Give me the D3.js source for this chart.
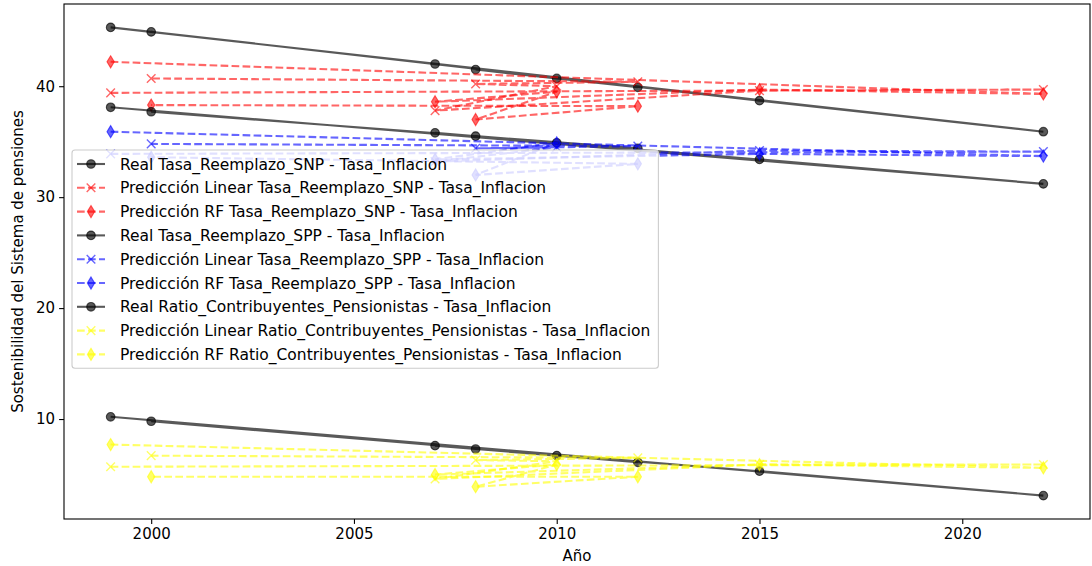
<!DOCTYPE html>
<html lang="en">
<head>
<meta charset="UTF-8">
<script src="https://d3js.org/d3.v7.min.js"></script>
<title>Sostenibilidad</title>
<style>
  body { margin: 0; background: #fff; }
  svg text { font-family: "DejaVu Sans", sans-serif; fill: #000; }
</style>
</head>
<body>
<div id="chart"></div>
<script>
// years in the order the rows were predicted (not sorted)
var years = [1999, 2022, 2015, 2007, 2010, 2008, 2012, 2000];

var realSNP = [45.3, 35.9, 38.7, 42.0, 40.7, 41.5, 39.9, 44.9];
var linSNP  = [39.4, 39.7, 39.6, 37.8, 40.0, 40.2, 40.4, 40.7];
var rfSNP   = [42.2, 39.3, 39.7, 38.6, 39.5, 37.0, 38.2, 38.3];

var realSPP = [38.1, 31.2, 33.4, 35.8, 34.9, 35.5, 34.4, 37.7];
var linSPP  = [33.9, 34.1, 34.2, 33.2, 34.5, 34.4, 34.6, 34.8];
var rfSPP   = [35.9, 33.7, 33.9, 33.4, 34.9, 32.0, 33.0, 33.6];

var realRatio = [10.2, 3.1, 5.3, 7.6, 6.7, 7.3, 6.1, 9.8];
var linRatio  = [5.7, 5.9, 5.9, 4.6, 6.2, 6.3, 6.5, 6.7];
var rfRatio   = [7.7, 5.6, 5.9, 5.0, 5.9, 3.9, 4.8, 4.8];

var xTicks = [2000, 2005, 2010, 2015, 2020];
var yTicks = [10, 20, 30, 40];

var series = [
  { label: "Real Tasa_Reemplazo_SNP - Tasa_Inflacion", values: realSNP, color: "black", kind: "real" },
  { label: "Predicción Linear Tasa_Reemplazo_SNP - Tasa_Inflacion", values: linSNP, color: "red", kind: "lin" },
  { label: "Predicción RF Tasa_Reemplazo_SNP - Tasa_Inflacion", values: rfSNP, color: "red", kind: "rf" },
  { label: "Real Tasa_Reemplazo_SPP - Tasa_Inflacion", values: realSPP, color: "black", kind: "real" },
  { label: "Predicción Linear Tasa_Reemplazo_SPP - Tasa_Inflacion", values: linSPP, color: "blue", kind: "lin" },
  { label: "Predicción RF Tasa_Reemplazo_SPP - Tasa_Inflacion", values: rfSPP, color: "blue", kind: "rf" },
  { label: "Real Ratio_Contribuyentes_Pensionistas - Tasa_Inflacion", values: realRatio, color: "black", kind: "real" },
  { label: "Predicción Linear Ratio_Contribuyentes_Pensionistas - Tasa_Inflacion", values: linRatio, color: "yellow", kind: "lin" },
  { label: "Predicción RF Ratio_Contribuyentes_Pensionistas - Tasa_Inflacion", values: rfRatio, color: "yellow", kind: "rf" }
];

var width = 1092, height = 566;
var mLeft = 64, mRight = 1090, mTop = 4, mBottom = 519;
var fs = "15px", legendFs = "15.5px";

var svg = d3.select("#chart").append("svg")
  .attr("width", width).attr("height", height);

// matplotlib style autoscale: 5% margins
var xr = d3.extent(years), xm = (xr[1] - xr[0]) * 0.05;
var allY = d3.merge(series.map(function (s) { return s.values; }));
var yr = d3.extent(allY), ym = (yr[1] - yr[0]) * 0.05;

var x = d3.scaleLinear().domain([xr[0] - xm, xr[1] + xm]).range([mLeft, mRight]);
var y = d3.scaleLinear().domain([yr[0] - ym, yr[1] + ym]).range([mBottom, mTop]);

// marker shapes
var ms = 8.6;
function marker(sel, kind, color, op) {
  if (kind === "real") {
    sel.append("circle").attr("r", ms / 2)
      .attr("fill", color).attr("fill-opacity", op)
      .attr("stroke", color).attr("stroke-opacity", op).attr("stroke-width", 1.1);
  } else if (kind === "lin") {
    var h = ms / 2;
    sel.append("path").attr("d", "M" + -h + "," + -h + "L" + h + "," + h + "M" + -h + "," + h + "L" + h + "," + -h)
      .attr("fill", "none").attr("stroke", color).attr("stroke-opacity", op).attr("stroke-width", 1.4);
  } else {
    var dy = ms * 0.707, dx = ms * 0.707 * 0.6;
    sel.append("path").attr("d", "M0," + -dy + "L" + dx + ",0L0," + dy + "L" + -dx + ",0Z")
      .attr("fill", color).attr("fill-opacity", op)
      .attr("stroke", color).attr("stroke-opacity", op).attr("stroke-width", 1.1);
  }
}

var line = d3.line()
  .x(function (d) { return x(d[0]); })
  .y(function (d) { return y(d[1]); });

var plot = svg.append("g");

series.forEach(function (s) {
  var op = s.kind === "real" ? 0.65 : 0.6;
  var pts = years.map(function (yv, i) { return [yv, s.values[i]]; });
  plot.append("path")
    .attr("d", line(pts))
    .attr("fill", "none")
    .attr("stroke", s.color)
    .attr("stroke-opacity", op)
    .attr("stroke-width", 2.1)
    .attr("stroke-dasharray", s.kind === "real" ? null : "7.7,3.3");
  pts.forEach(function (p) {
    var g = plot.append("g").attr("transform", "translate(" + x(p[0]) + "," + y(p[1]) + ")");
    marker(g, s.kind, s.color, op);
  });
});

// axes
var xAxis = d3.axisBottom(x).tickValues(xTicks).tickFormat(d3.format("d")).tickSize(4.9).tickPadding(4);
var yAxis = d3.axisLeft(y).tickValues(yTicks).tickSize(4.9).tickPadding(4);

var gx = svg.append("g").attr("transform", "translate(0," + mBottom + ")").call(xAxis);
var gy = svg.append("g").attr("transform", "translate(" + mLeft + ",0)").call(yAxis);
[gx, gy].forEach(function (g) {
  g.select(".domain").remove();
  g.selectAll(".tick line").attr("stroke", "#000").attr("stroke-width", 1.1);
  g.selectAll(".tick text").attr("fill", "#000")
    .style("font-family", "DejaVu Sans, sans-serif").style("font-size", fs);
});

svg.append("rect")
  .attr("x", mLeft).attr("y", mTop)
  .attr("width", mRight - mLeft).attr("height", mBottom - mTop)
  .attr("fill", "none").attr("stroke", "#000").attr("stroke-width", 1.1);

svg.append("text")
  .attr("x", (mLeft + mRight) / 2).attr("y", 561)
  .attr("text-anchor", "middle").style("font-size", fs)
  .text("Año");

svg.append("text")
  .attr("transform", "translate(23," + (mTop + mBottom) / 2 + ") rotate(-90)")
  .attr("text-anchor", "middle").style("font-size", fs)
  .text("Sostenibilidad del Sistema de pensiones");

// legend
var lx = 72, ly = 150, rowH = 23.8;
var legend = svg.append("g");
var box = legend.append("rect")
  .attr("x", lx).attr("y", ly).attr("rx", 3).attr("ry", 3)
  .attr("height", rowH * series.length + 4)
  .attr("fill", "#fff").attr("fill-opacity", 0.8)
  .attr("stroke", "#cccccc").attr("stroke-width", 1.1);

var maxW = 0;
series.forEach(function (s, i) {
  var op = s.kind === "real" ? 0.65 : 0.6;
  var cy = ly + 14 + i * rowH;
  legend.append("line")
    .attr("x1", lx + 5).attr("x2", lx + 33).attr("y1", cy).attr("y2", cy)
    .attr("stroke", s.color).attr("stroke-opacity", op).attr("stroke-width", 2.1)
    .attr("stroke-dasharray", s.kind === "real" ? null : "7.7,3.3");
  var g = legend.append("g").attr("transform", "translate(" + (lx + 19) + "," + cy + ")");
  marker(g, s.kind, s.color, op);
  var t = legend.append("text")
    .attr("x", lx + 48).attr("y", cy + 5.5)
    .style("font-size", legendFs)
    .text(s.label);
  maxW = Math.max(maxW, t.node().getComputedTextLength());
});
box.attr("width", 48 + maxW + 8);
</script>
</body>
</html>
